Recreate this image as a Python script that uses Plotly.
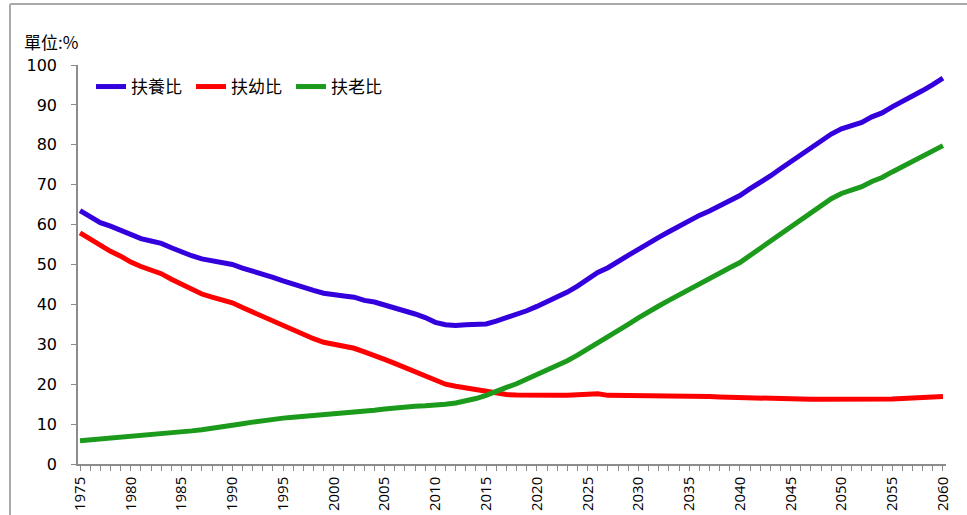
import plotly.graph_objects as go

years = list(range(1975, 2061))

dependency = [63.5, 62.0, 60.5, 59.6, 58.5, 57.3, 56.5, 55.9, 55.3, 54.2,
              53.1, 52.2, 51.4, 50.9, 50.5, 50.0, 49.1, 48.4, 47.7, 46.8,
              45.9, 45.0, 44.4, 43.5, 42.8, 42.3, 42.1, 41.8, 41.0, 40.6,
              39.9, 39.2, 38.4, 37.6, 36.7, 35.5, 34.9, 34.7, 34.9, 35.0,
              35.1, 35.8, 36.6, 37.4, 38.4, 39.5, 40.7, 41.8, 43.1, 44.6,
              46.3, 48.0, 49.2, 50.6, 52.3, 53.8, 55.4, 56.8, 58.2, 59.6,
              60.9, 62.3, 63.4, 64.6, 66.0, 67.3, 69.0, 70.5, 72.2, 74.0,
              75.8, 77.6, 79.4, 81.1, 82.7, 84.0, 84.7, 85.6, 87.0, 88.0,
              89.5, 90.8, 92.1, 93.6, 95.1, 96.7]

youth = [57.9, 56.3, 54.8, 53.3, 52.1, 50.6, 49.5, 48.6, 47.7, 46.3,
         45.0, 43.7, 42.6, 41.8, 41.1, 40.4, 39.2, 38.1, 37.0, 35.7,
         34.5, 33.4, 32.5, 31.4, 30.5, 30.0, 29.5, 29.0, 28.1, 27.3,
         26.2, 25.2, 24.1, 23.0, 21.9, 20.8, 20.0, 19.5, 19.1, 18.6,
         18.0, 17.6, 17.4, 17.3, 17.2, 17.2, 17.2, 17.2, 17.2, 17.3,
         17.5, 17.6, 17.2, 17.2, 17.2, 17.2, 17.2, 17.2, 17.2, 17.2,
         17.1, 17.0, 16.9, 16.8, 16.7, 16.6, 16.5, 16.4, 16.3, 16.3,
         16.2, 16.2, 16.2, 16.2, 16.2, 16.1, 16.0, 16.0, 16.1, 16.2,
         16.3, 16.4, 16.5, 16.6, 16.8, 16.9]

elderly = [5.8, 6.0, 6.3, 6.5, 6.7, 7.0, 7.2, 7.4, 7.6, 7.7,
           8.0, 8.3, 8.6, 8.9, 9.3, 9.7, 10.1, 10.5, 10.9, 11.2,
           11.5, 11.7, 11.9, 12.1, 12.3, 12.4, 12.6, 12.9, 13.1, 13.5,
           13.8, 14.1, 14.3, 14.5, 14.6, 14.7, 15.0, 15.3, 15.8, 16.4,
           17.2, 18.3, 19.2, 20.1, 21.2, 22.3, 23.5, 24.6, 25.9, 27.3,
           28.8, 30.3, 31.7, 33.3, 35.0, 36.6, 38.2, 39.6, 41.0, 42.4,
           43.8, 45.3, 46.5, 47.8, 49.2, 50.5, 52.3, 54.0, 55.8, 57.6,
           59.5, 61.3, 63.2, 64.9, 66.5, 67.8, 68.6, 69.5, 70.8, 71.8,
           73.2, 74.5, 75.7, 77.1, 78.4, 79.8]

series_names = ["扶養比", "扶幼比", "扶老比"]
series_colors = ["#3300DD", "#FF0000", "#1C9A1C"]
tick_years = list(range(1975, 2061, 5))
unit_label = "單位:%"

cjk = "Noto Sans CJK TC"
num_font = "DejaVu Sans"

fig = go.Figure()
for name, vals, col in zip(series_names, [dependency, youth, elderly], series_colors):
    fig.add_trace(go.Scatter(x=years, y=vals, mode="lines", name=name,
                             line=dict(color=col, width=5)))

axis_col = "#8c8c8c"
fig.update_layout(
    width=967, height=515,
    margin=dict(l=78, r=21, t=65, b=51, autoexpand=False),
    paper_bgcolor="white", plot_bgcolor="white",
    showlegend=True,
    legend=dict(orientation="h", x=0.015, y=0.99, xanchor="left", yanchor="top",
                font=dict(family=cjk, size=17, color="black"),
                bgcolor="rgba(0,0,0,0)", entrywidth=55, entrywidthmode="pixels",
                tracegroupgap=0),
    xaxis=dict(range=[1974.8, 2060.3], tickmode="array", tickvals=tick_years,
               ticktext=[str(y) for y in tick_years], tickangle=-90,
               ticks="outside", ticklen=5, tickcolor=axis_col, automargin=False,
               showline=True, linecolor=axis_col, linewidth=1.5,
               showgrid=False, zeroline=False,
               tickfont=dict(family="Open Sans", size=15, color="black"),
               minor=dict(dtick=1, tick0=1975, ticks="outside", ticklen=5,
                          tickcolor=axis_col, showgrid=False)),
    yaxis=dict(range=[0, 100], tickvals=list(range(0, 101, 10)),
               ticks="outside", ticklen=5, tickcolor=axis_col, automargin=False,
               showline=True, linecolor=axis_col, linewidth=1.5,
               showgrid=False, zeroline=False, ticklabelstandoff=11,
               tickfont=dict(family=num_font, size=16, color="black")),
    annotations=[dict(text=unit_label, xref="paper", yref="paper",
                      x=(22 - 78) / 868, y=(464 - 42) / 399,
                      xanchor="left", yanchor="middle", showarrow=False,
                      font=dict(family=cjk, size=17, color="black"))],
    shapes=[
        dict(type="line", xref="paper", yref="paper",
             x0=(10 - 78) / 868, x1=1.2, y0=(464 - 4) / 399, y1=(464 - 4) / 399,
             line=dict(color="#aaaaaa", width=2)),
        dict(type="line", xref="paper", yref="paper",
             x0=(10 - 78) / 868, x1=(10 - 78) / 868, y0=(464 - 4) / 399, y1=-0.2,
             line=dict(color="#aaaaaa", width=2)),
    ],
)

fig.write_html("out.html", config={"displayModeBar": False},
               post_script="document.body.style.margin='0';")
